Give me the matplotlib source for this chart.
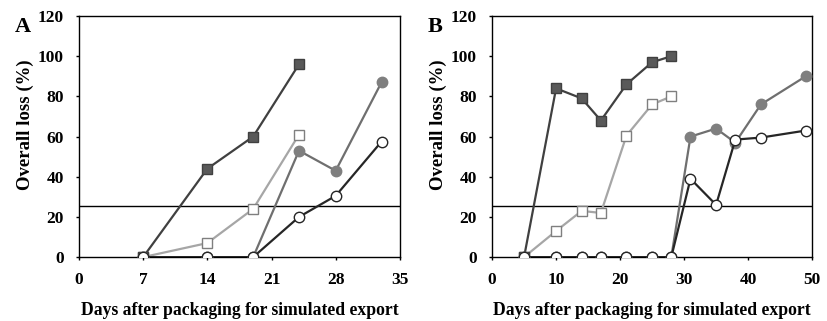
import numpy as np
import matplotlib
matplotlib.use("Agg")
import matplotlib.pyplot as plt

plt.rcParams['font.family'] = ['Liberation Serif', 'DejaVu Serif']
plt.rcParams['font.weight'] = 'bold'

# panel A
a_days_sq = [7, 14, 19, 24]
a_dark_sq = [0, 44, 60, 96]
a_open_sq = [0, 7, 24, 61]
a_days_ci = [7, 14, 19, 24, 28, 33]
a_gray_ci = [0, 0, 0, 53, 43, 87]
a_open_ci = [0, 0, 0, 20, 30.5, 57.5]

# panel B
b_days_sq = [5, 10, 14, 17, 21, 25, 28]
b_dark_sq = [0, 84, 79, 68, 86, 97, 100]
b_open_sq = [0, 13, 23, 22, 60.5, 76, 80]
b_days_ci = [5, 10, 14, 17, 21, 25, 28, 31, 35, 38, 42, 49]
b_gray_ci = [0, 0, 0, 0, 0, 0, 0, 60, 64, 57, 76, 90]
b_open_ci = [0, 0, 0, 0, 0, 0, 0, 39, 26, 58.5, 59.5, 63]

threshold = 25.5

fig = plt.figure(figsize=(8.27, 3.21), dpi=100)
axA = fig.add_axes([0.0955, 0.199, 0.388, 0.751])
axB = fig.add_axes([0.595, 0.199, 0.387, 0.751])


def draw_panel(ax, days_sq, dark_sq, open_sq, days_ci, gray_ci, open_ci,
               xmax, xticks, letter):
    ax.axhline(threshold, color='black', lw=1.0, zorder=1)
    ax.plot(days_sq, open_sq, color='#a6a6a6', lw=1.6, marker='s', ms=7,
            mfc='white', mec='#7f7f7f', mew=1.0, zorder=3)
    ax.plot(days_sq, dark_sq, color='#404040', lw=1.6, marker='s', ms=7,
            mfc='#595959', mec='#404040', mew=1.0, zorder=4)
    ax.plot(days_ci, gray_ci, color='#6f6f6f', lw=1.6, marker='o', ms=7.5,
            mfc='#7f7f7f', mec='#7f7f7f', mew=1.0, zorder=5)
    ax.plot(days_ci, open_ci, color='#262626', lw=1.6, marker='o', ms=7.5,
            mfc='white', mec='#262626', mew=1.0, zorder=6)
    ax.set_xlim(0, xmax)
    ax.set_ylim(0, 120)
    ax.set_xticks(xticks)
    ax.set_yticks(range(0, 121, 20))
    ax.tick_params(direction='out', labelsize=12.5, length=2.5, width=1)
    ax.tick_params(axis='y', pad=8.5)
    ax.tick_params(axis='x', pad=8)
    for lbl in ax.get_xticklabels() + ax.get_yticklabels():
        lbl.set_fontweight('bold')
    for s in ax.spines.values():
        s.set_linewidth(1.0)
    ax.set_ylabel('Overall loss (%)', fontsize=13.5, fontweight='bold')
    ax.yaxis.set_label_coords(-0.14, 0.548)
    ax.set_xlabel('Days after packaging for simulated export', fontsize=12.7,
                  fontweight='bold', labelpad=10)
    ax.text(-0.2, 0.995, letter, transform=ax.transAxes, fontsize=16,
            fontweight='bold', va='top', ha='left')


draw_panel(axA, a_days_sq, a_dark_sq, a_open_sq, a_days_ci, a_gray_ci,
           a_open_ci, 35, range(0, 36, 7), 'A')
draw_panel(axB, b_days_sq, b_dark_sq, b_open_sq, b_days_ci, b_gray_ci,
           b_open_ci, 50, range(0, 51, 10), 'B')

fig.savefig('out.png', dpi=100)
